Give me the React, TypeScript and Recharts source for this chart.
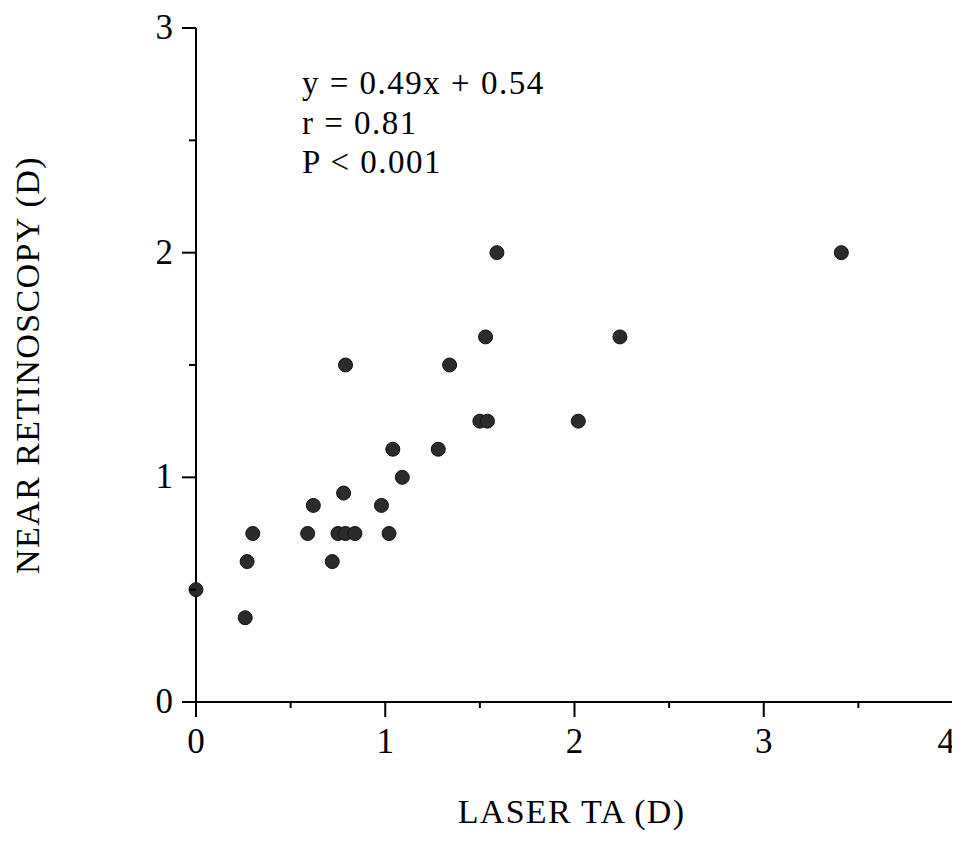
import { ScatterChart, Scatter, XAxis, YAxis } from 'recharts';

// Laser TA (D) vs near retinoscopy (D)
const laserTA = [
  0, 0.26, 0.27, 0.3, 0.59, 0.62, 0.72, 0.75, 0.79, 0.84, 0.78, 0.79, 0.98,
  1.02, 1.04, 1.09, 1.28, 1.34, 1.5, 1.54, 1.53, 1.59, 2.02, 2.24, 3.41,
];
const nearRet = [
  0.5, 0.375, 0.625, 0.75, 0.75, 0.875, 0.625, 0.75, 0.75, 0.75, 0.93, 1.5, 0.875,
  0.75, 1.125, 1.0, 1.125, 1.5, 1.25, 1.25, 1.625, 2.0, 1.25, 1.625, 2.0,
];

const xTicks = [0, 0.5, 1, 1.5, 2, 2.5, 3, 3.5, 4];
const yTicks = [0, 0.5, 1, 1.5, 2, 2.5, 3];

const statLines = ['y = 0.49x + 0.54', 'r = 0.81', 'P < 0.001'];

const points = laserTA.map((x, i) => ({ x, y: nearRet[i] }));

const FONT = "'Liberation Serif', 'Times New Roman', serif";

function XTick(props: any) {
  const { x, y, payload } = props;
  const v = Number(payload.value);
  const major = Number.isInteger(v);
  const last = v >= 4;
  return (
    <g>
      <line x1={x} y1={y} x2={x} y2={y + (major ? 15 : 6)} stroke="#000" strokeWidth={2} />
      {major && (
        <text
          x={last ? x + 2 : x}
          y={y + 51}
          textAnchor={last ? 'end' : 'middle'}
          fontFamily={FONT}
          fontSize={35}
          fill="#000"
        >
          {v}
        </text>
      )}
    </g>
  );
}

function YTick(props: any) {
  const { x, y, payload } = props;
  const major = Number.isInteger(payload.value);
  return (
    <g>
      <line x1={x - (major ? 14 : 7)} y1={y} x2={x} y2={y} stroke="#000" strokeWidth={2} />
      {major && (
        <text x={x - 23} y={y + 11} textAnchor="end" fontFamily={FONT} fontSize={35} fill="#000">
          {payload.value}
        </text>
      )}
    </g>
  );
}

function Dot(props: any) {
  const { cx, cy } = props;
  return <circle cx={cx} cy={cy} r={7} fill="#2b2b2b" stroke="#111" strokeWidth={1} />;
}

export default function App() {
  return (
    <div style={{ width: 952, height: 826, overflow: 'hidden' }}>
      <ScatterChart width={952} height={826} margin={{ top: 20, right: 7, left: 0, bottom: 0 }}>
        <XAxis
          type="number"
          dataKey="x"
          domain={[0, 4]}
          ticks={xTicks}
          interval={0}
          height={132}
          tickSize={0}
          tickMargin={0}
          tickLine={false}
          tick={<XTick />}
          axisLine={{ stroke: '#000', strokeWidth: 2 }}
          label={{
            content: ({ viewBox }: any) => (
              <text
                x={viewBox.x + viewBox.width / 2 - 3}
                y={viewBox.y + 121}
                textAnchor="middle"
                fontFamily={FONT}
                fontSize={34}
                letterSpacing={1.3}
                fill="#000"
              >
                LASER TA (D)
              </text>
            ),
          }}
        />
        <YAxis
          type="number"
          dataKey="y"
          domain={[0, 3]}
          ticks={yTicks}
          interval={0}
          width={188}
          tickSize={0}
          tickMargin={0}
          tickLine={false}
          tick={<YTick />}
          axisLine={{ stroke: '#000', strokeWidth: 2 }}
          label={{
            content: ({ viewBox }: any) => {
              const cx = viewBox.x + 31;
              const cy = viewBox.y + viewBox.height / 2;
              return (
                <text
                  x={cx}
                  y={cy}
                  transform={`rotate(-90 ${cx} ${cy})`}
                  textAnchor="middle"
                  fontFamily={FONT}
                  fontSize={34}
                  letterSpacing={1.4}
                  fill="#000"
                >
                  NEAR RETINOSCOPY (D)
                </text>
              );
            },
          }}
        />
        <Scatter data={points} shape={<Dot />} isAnimationActive={false} />
        <g>
          {statLines.map((s, i) => (
            <text
              key={s}
              x={294}
              y={86 + i * 39.5}
              fontFamily={FONT}
              fontSize={33}
              letterSpacing={1.5}
              fill="#000"
            >
              {s}
            </text>
          ))}
        </g>
      </ScatterChart>
    </div>
  );
}
